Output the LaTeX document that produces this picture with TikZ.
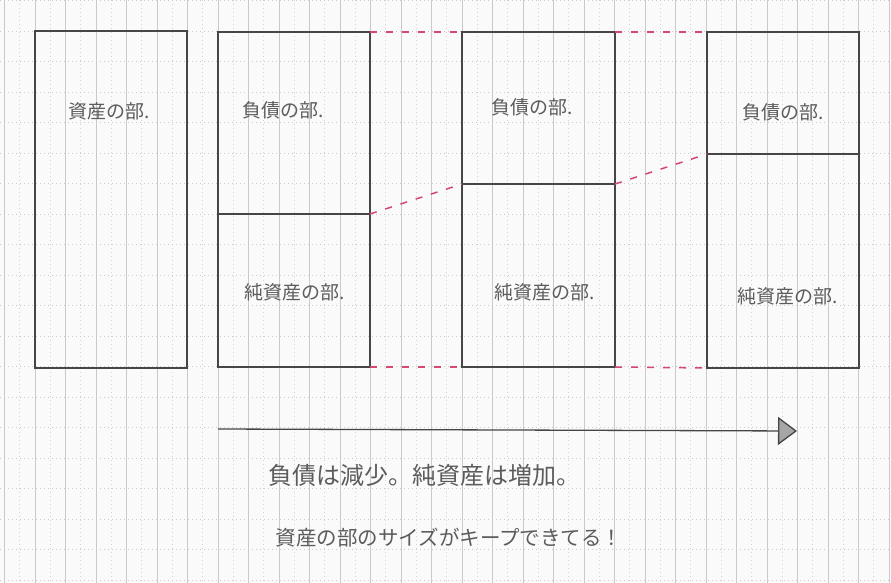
\documentclass[tikz,border=0pt]{standalone}
\usepackage{fontspec}
\newfontfamily\jp{Noto Sans CJK JP}
\usepackage{tikz}
\usetikzlibrary{positioning,shapes,arrows.meta}

\definecolor{paper}{RGB}{250,250,250}
\definecolor{rule}{RGB}{202,202,202}
\definecolor{dots}{RGB}{212,212,212}
\definecolor{pencil}{RGB}{70,70,70}
\definecolor{lead}{RGB}{92,92,92}
\definecolor{marker}{RGB}{214,72,112}

\begin{document}
\begin{tikzpicture}[%
        x=1pt,y=-1pt,
        part/.style={%
          rectangle,
          draw=pencil,
          line width=1.2pt,
          inner sep=0pt,
          outer sep=0pt,
          minimum width=152pt
        },
        lbl/.style={%
          text=lead,
          font=\jp\fontsize{19}{19}\selectfont
        },
        link/.style={%
          draw=marker,
          line width=1.5pt,
          dash pattern=on 7pt off 9pt
        },
        dotline/.style={%
          draw=dots,
          line width=0.6pt,
          dash pattern=on 1pt off 3pt
        }
      ]
      % grid paper
      \fill[paper] (0,0) rectangle (891,583);
      \useasboundingbox (0,0) rectangle (891,583);
      \foreach \i in {0,...,29} {
        \draw[rule,line width=0.7pt] (4.5+30.5*\i,0) -- (4.5+30.5*\i,583);
        \draw[dotline] (19.75+30.5*\i,0) -- (19.75+30.5*\i,583);
      }
      \foreach \j in {0,...,19}
        \draw[dotline,draw=rule] (0,0.5+30.5*\j) -- (891,0.5+30.5*\j);

      % balance sheets
      \node[part,minimum height=337pt] (a) at (111,199.5) {};
      \node[part,minimum height=182pt] (b1) at (294,123) {};
      \node[part,minimum height=153pt] (b2) at (294,290.5) {};
      \node[part,minimum width=153pt,minimum height=152pt] (c1) at (538.5,108) {};
      \node[part,minimum width=153pt,minimum height=183pt] (c2) at (538.5,275.5) {};
      \node[part,minimum height=122pt] (d1) at (783,93) {};
      \node[part,minimum height=214pt] (d2) at (783,261) {};

      \node[lbl] (ta) at (109,111) {資産の部.};
      \node[lbl] (tb1) at (283,110) {負債の部.};
      \node[lbl] (tc1) at (532,107) {負債の部.};
      \node[lbl] (td1) at (783,112) {負債の部.};
      \node[lbl] (tb2) at (295,292) {純資産の部.};
      \node[lbl] (tc2) at (545,292) {純資産の部.};
      \node[lbl] (td2) at (788,296) {純資産の部.};

      % red links
      \draw[link] (b1.north east) -- (c1.north west);
      \draw[link] (c1.north east) -- (d1.north west);
      \draw[link] (b2.north east) -- (c2.north west);
      \draw[link] (c2.north east) -- (d2.north west);
      \draw[link] (b2.south east) -- (c2.south west);
      \draw[link] (c2.south east) -- (d2.south west);

      % time arrow
      \coordinate (s) at (218,429);
      \coordinate (e) at (797,431);
      \draw[pencil,line width=1.3pt,-{Triangle[length=19pt,width=28pt,fill=gray!70]}] (s) -- (e);

      \node[lbl,font=\jp\fontsize{24}{24}\selectfont] (n1) at (424,475) {負債は減少。純資産は増加。};
      \node[lbl,font=\jp\fontsize{20.5}{20.5}\selectfont] (n2) at (449,538) {資産の部のサイズがキープできてる！};
    \end{tikzpicture}
\end{document}
